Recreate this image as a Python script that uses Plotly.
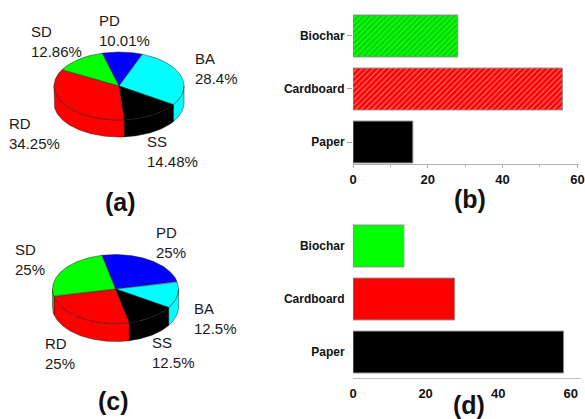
import numpy as np
import plotly.graph_objects as go

W, H = 585, 419

# ---- data ----
pie_names = ["PD", "BA", "SS", "RD", "SD"]
pie_colors = ["#0000FF", "#00FFFF", "#000000", "#FF0000", "#00FF00"]
pie_a_values = [10.01, 28.4, 14.48, 34.25, 12.86]
pie_c_values = [25, 12.5, 12.5, 25, 25]

bar_categories = ["Biochar", "Cardboard", "Paper"]
bar_colors = ["#00FF00", "#FF0000", "#000000"]
bar_b_patterns = ["/", "/", ""]
bar_b_values = [28, 56, 16]
bar_d_values = [14, 28, 58]
x_tick_values = [0, 20, 40, 60]

FONT = "Arial, Liberation Sans, sans-serif"
EDGE = "rgba(20,20,20,0.75)"


def px_x(x):
    return x / W


def px_y(y):
    return 1 - y / H


fig = go.Figure()


def add_pie3d(values, cx, cy, rx, ry, depth, start_deg):
    """Extruded pie drawn in pixel units on the x3/y3 axes, slices clockwise."""
    total = float(sum(values))
    bounds = [start_deg]
    for v in values:
        bounds.append(bounds[-1] - 360.0 * v / total)
    # front walls (visible where sin(theta) < 0)
    for i, c in enumerate(pie_colors):
        a, b = bounds[i], bounds[i + 1]
        for k in range(-2, 2):
            lo, hi = -180 + 360 * k, 360 * k
            t_hi, t_lo = min(a, hi), max(b, lo)
            if t_hi > t_lo:
                t = np.radians(np.linspace(t_hi, t_lo, 80))
                xs = cx + rx * np.cos(t)
                ys = cy - ry * np.sin(t)
                X = np.concatenate([xs, xs[::-1], xs[:1]])
                Y = np.concatenate([ys, ys[::-1] + depth, ys[:1]])
                fig.add_trace(go.Scatter(
                    x=X, y=Y, fill="toself", fillcolor=c, mode="lines",
                    line=dict(color=EDGE, width=0.6),
                    xaxis="x3", yaxis="y3", hoverinfo="skip", showlegend=False))
    # top faces
    for i, c in enumerate(pie_colors):
        a, b = bounds[i], bounds[i + 1]
        t = np.radians(np.linspace(a, b, 120))
        X = np.concatenate([[cx], cx + rx * np.cos(t), [cx]])
        Y = np.concatenate([[cy], cy - ry * np.sin(t), [cy]])
        fig.add_trace(go.Scatter(
            x=X, y=Y, fill="toself", fillcolor=c, mode="lines",
            line=dict(color=EDGE, width=0.6),
            xaxis="x3", yaxis="y3", hoverinfo="skip", showlegend=False))


def add_pie_labels(values, positions):
    for name, v in zip(pie_names, values):
        x, y = positions[name]
        fig.add_annotation(
            x=px_x(x), y=px_y(y), xref="paper", yref="paper",
            xanchor="left", yanchor="middle", align="left", showarrow=False,
            text=f"{name}<br>{v:g}%",
            font=dict(family=FONT, size=15, color="#1a1a1a"))


# panel (a)
add_pie3d(pie_a_values, cx=119, cy=86, rx=65, ry=34, depth=17, start_deg=105)
add_pie_labels(pie_a_values, {
    "PD": (97, 30.5), "SD": (29, 42), "BA": (193, 69),
    "RD": (7, 133), "SS": (145, 151.5)})

# panel (c)
add_pie3d(pie_c_values, cx=115.5, cy=289, rx=63, ry=34.5, depth=18, start_deg=102.5)
add_pie_labels(pie_c_values, {
    "PD": (154, 242), "SD": (13, 259.5), "BA": (192, 318),
    "RD": (43, 353), "SS": (150, 352)})

# panel (b): hatched bars
fig.add_trace(go.Bar(
    y=bar_categories, x=bar_b_values, orientation="h", width=0.79,
    marker=dict(color=bar_colors, line=dict(color="#8c8c8c", width=1),
                pattern=dict(shape=bar_b_patterns, fgcolor="#000000",
                             size=4, solidity=0.28)),
    xaxis="x", yaxis="y", showlegend=False, hoverinfo="skip"))

# panel (d): plain bars
fig.add_trace(go.Bar(
    y=bar_categories, x=bar_d_values, orientation="h", width=0.79,
    marker=dict(color=bar_colors, line=dict(color="#8c8c8c", width=1)),
    xaxis="x2", yaxis="y2", showlegend=False, hoverinfo="skip"))

tick_font_x = dict(family=FONT, size=13, color="#111", weight="bold")
tick_font_y = dict(family=FONT, size=12, color="#111", weight="bold")
cat_order = list(reversed(bar_categories))

fig.update_layout(
    width=W, height=H, margin=dict(l=0, r=0, t=0, b=0, autoexpand=False),
    paper_bgcolor="white", plot_bgcolor="rgba(0,0,0,0)",
    xaxis=dict(domain=[353 / W, 578.5 / W], range=[0, 60.3], anchor="y",
               automargin=False,
               tickvals=x_tick_values, showgrid=False, zeroline=False,
               showline=True, linecolor="#b0b0b0", linewidth=1,
               ticks="outside", ticklen=3, tickcolor="#b0b0b0",
               minor=dict(dtick=10, ticks="outside", ticklen=2, tickcolor="#b0b0b0"),
               tickfont=tick_font_x),
    yaxis=dict(domain=[px_y(164), px_y(10)], range=[-0.415, 2.49], anchor="x",
               automargin=False,
               type="category", categoryorder="array", categoryarray=cat_order,
               showgrid=False, zeroline=False, showline=False,
               ticks="outside", ticklen=5, tickcolor="#a0a0a0",
               tickfont=tick_font_y),
    xaxis2=dict(domain=[353 / W, 581 / W], range=[0, 62.8], anchor="y2",
                automargin=False,
                tickvals=x_tick_values, showgrid=False, zeroline=False,
                showline=True, linecolor="#c0c0c0", linewidth=1,
                ticks="outside", ticklen=3, tickcolor="rgba(0,0,0,0)",
                tickfont=tick_font_x),
    yaxis2=dict(domain=[px_y(378), px_y(220)], range=[-0.49, 2.49], anchor="x2",
                automargin=False,
                type="category", categoryorder="array", categoryarray=cat_order,
                showgrid=False, zeroline=False, showline=False,
                ticks="outside", ticklen=5, tickcolor="rgba(0,0,0,0)",
                tickfont=tick_font_y),
    xaxis3=dict(domain=[0, 290 / W], range=[0, 290], anchor="y3", visible=False,
                automargin=False),
    yaxis3=dict(domain=[0, 1], range=[H, 0], anchor="x3", visible=False,
                automargin=False),
)

# panel letters
for letter, (x, y) in {"(a)": (120, 202), "(b)": (470, 199),
                       "(c)": (113, 401), "(d)": (469, 405)}.items():
    fig.add_annotation(x=px_x(x), y=px_y(y), xref="paper", yref="paper",
                       xanchor="center", yanchor="middle", showarrow=False,
                       text=letter,
                       font=dict(family=FONT, size=25, color="#111", weight="bold"))

fig.write_html("out.html")
